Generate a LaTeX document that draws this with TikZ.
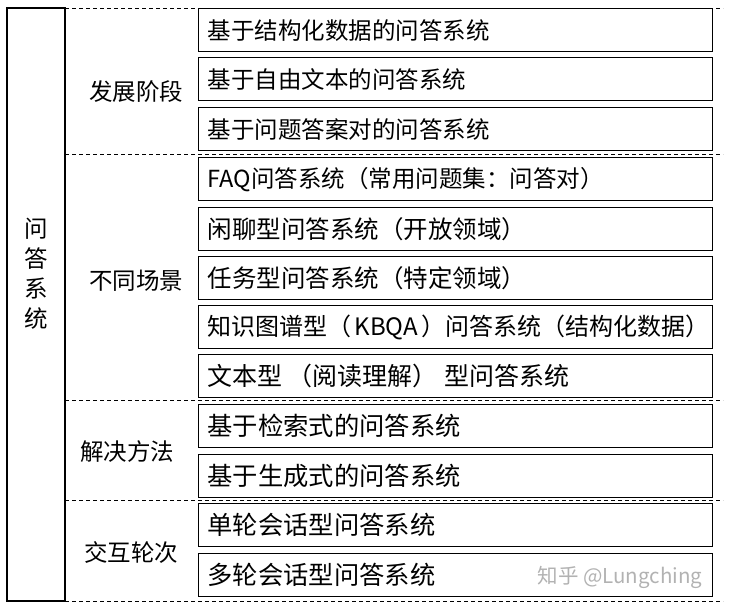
\documentclass[tikz,border=0pt]{standalone}
\usepackage{fontspec}
\setmainfont{Noto Sans CJK SC}

\begin{document}
\begin{tikzpicture}[x=1pt,y=-1pt,
    item/.style={draw,line width=1.2pt,anchor=north west,minimum height=43pt,
                 text width=496pt,inner xsep=9pt,inner ysep=0pt,align=left,
                 font=\fontsize{#1}{28}\selectfont},
    item/.default=23.5,
    cat/.style={font=\fontsize{23.5}{28}\selectfont},
    sep/.style={line width=0.8pt,dash pattern=on 4pt off 3pt}]
    \useasboundingbox (0,0) rectangle (731,611);

    % Rahmen links
    \draw[line width=1.4pt] (7,8) rectangle (65,601);
    \node[cat,align=center] (root) at (36,274) {问\\[2pt]答\\[2pt]系\\[2pt]统};

    % Trennlinien
    \draw[sep] (65,8) -- (723,8);
    \draw[sep] (65,154) -- (723,154);
    \draw[sep] (65,400) -- (723,400);
    \draw[sep] (65,500) -- (723,500);
    \draw[sep] (65,601) -- (723,601);

    % Kategorien
    \node[cat] (stage) at (136,92) {发展阶段};
    \node[cat] (scene) at (136,281) {不同场景};
    \node[cat] (method) at (127,452) {解决方法};
    \node[cat] (turn) at (131,553) {交互轮次};

    % Boxen
    \node[item] (b1) at (198,8) {基于结构化数据的问答系统};
    \node[item] (b2) at (198,57) {基于自由文本的问答系统};
    \node[item] (b3) at (198,107) {基于问题答案对的问答系统};
    \node[item] (b4) at (198,157) {FAQ问答系统（常用问题集：问答对）};
    \node[item=24.5] (b5) at (198,207) {闲聊型问答系统（开放领域）};
    \node[item=24.5] (b6) at (198,256) {任务型问答系统（特定领域）};
    \node[item=24] (b7) at (198,305) {\mbox{知识图谱型（\kern3pt KBQA\kern3pt）问答系统（结构化数据）}};
    \node[item=25] (b8) at (198,354) {\mbox{文本型\kern5pt（阅读理解）\kern7pt 型问答系统}};
    \node[item=25.3] (b9) at (198,404) {基于检索式的问答系统};
    \node[item=25.3] (b10) at (198,454) {基于生成式的问答系统};
    \node[item=25.3] (b11) at (198,503) {单轮会话型问答系统};
    \node[item=25.3] (b12) at (198,553) {多轮会话型问答系统};

    % Wasserzeichen
    \node[anchor=west,text=black!30,font=\fontsize{20.5}{24}\selectfont] (mark) at (534,577) {知乎 @Lungching};
\end{tikzpicture}
\end{document}
